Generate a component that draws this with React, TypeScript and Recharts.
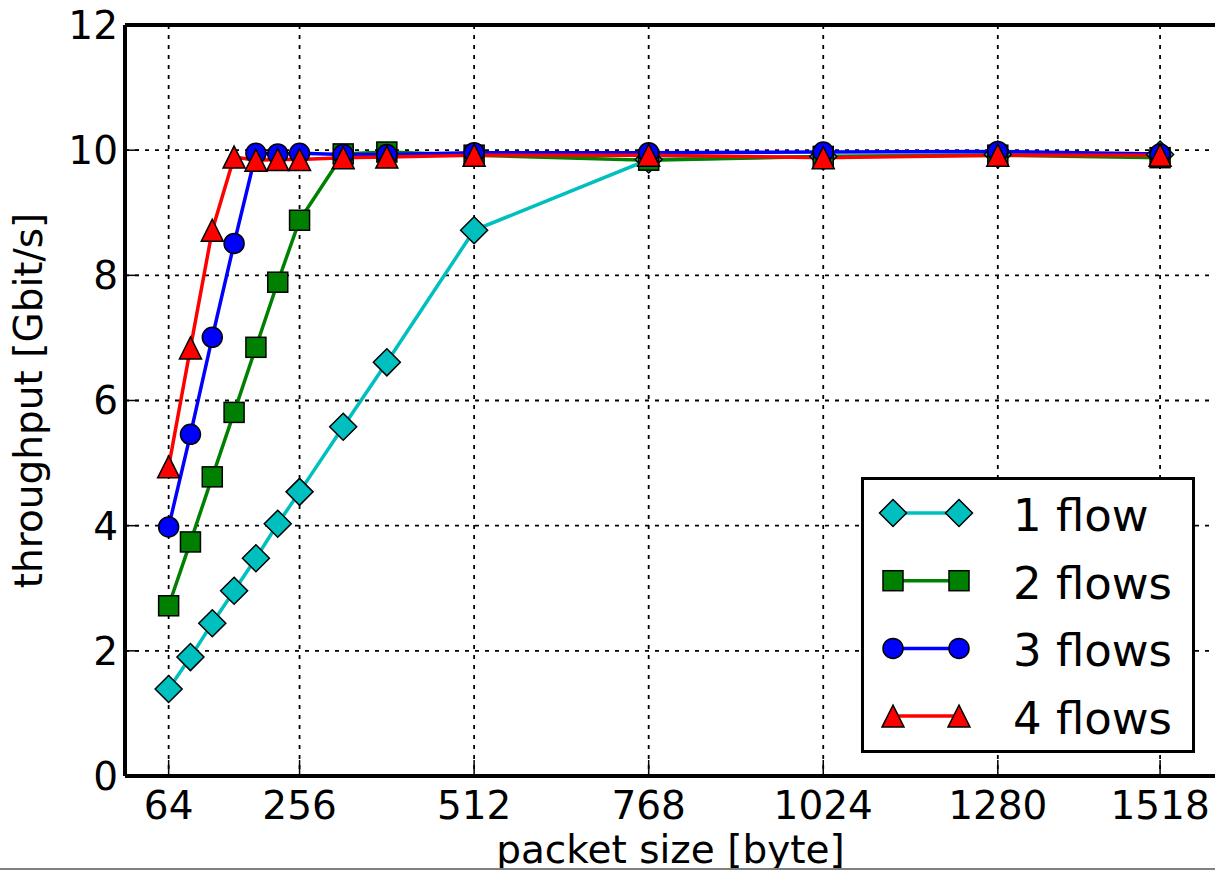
import React from "react";
import {
  LineChart,
  Line,
  XAxis,
  YAxis,
  CartesianGrid,
  Legend,
  ReferenceLine,
} from "recharts";

// packet sizes in bytes and throughput in Gbit/s
const packetSizes = [64, 96, 128, 160, 192, 224, 256, 320, 384, 512, 768, 1024, 1280, 1518];
const flow1 = [1.39, 1.9, 2.44, 2.96, 3.48, 4.03, 4.54, 5.58, 6.61, 8.72, 9.85, 9.9, 9.93, 9.93];
const flow2 = [2.72, 3.74, 4.78, 5.81, 6.85, 7.89, 8.88, 9.94, 9.97, 9.92, 9.84, 9.9, 9.92, 9.88];
const flow3 = [3.98, 5.46, 7.01, 8.51, 9.95, 9.94, 9.95, 9.93, 9.93, 9.96, 9.96, 9.97, 9.98, 9.94];
const flow4 = [4.94, 6.84, 8.72, 9.89, 9.84, 9.85, 9.85, 9.88, 9.89, 9.92, 9.92, 9.88, 9.92, 9.92];

const xTicks = [64, 256, 512, 768, 1024, 1280, 1518];
const yTicks = [0, 2, 4, 6, 8, 10, 12];

const data = packetSizes.map((size, i) => ({
  size,
  flow1: flow1[i],
  flow2: flow2[i],
  flow3: flow3[i],
  flow4: flow4[i],
}));

type Shape = "diamond" | "square" | "circle" | "triangle";

const SERIES: { key: string; name: string; color: string; shape: Shape }[] = [
  { key: "flow1", name: "1 flow", color: "#00bfbf", shape: "diamond" },
  { key: "flow2", name: "2 flows", color: "#008000", shape: "square" },
  { key: "flow3", name: "3 flows", color: "#0000ff", shape: "circle" },
  { key: "flow4", name: "4 flows", color: "#ff0000", shape: "triangle" },
];

const FONT = "'DejaVu Sans', sans-serif";

function Marker({ shape, cx, cy, fill }: { shape: Shape; cx?: number; cy?: number; fill: string }) {
  if (cx == null || cy == null) return null;
  const common = { fill, stroke: "#000", strokeWidth: 1.5 };
  switch (shape) {
    case "diamond": {
      const r = 13.5;
      return <polygon points={`${cx},${cy - r} ${cx + r},${cy} ${cx},${cy + r} ${cx - r},${cy}`} {...common} />;
    }
    case "square":
      return <rect x={cx - 10} y={cy - 10} width={20} height={20} {...common} />;
    case "circle":
      return <circle cx={cx} cy={cy} r={10} {...common} />;
    default: {
      const h = 11;
      return <polygon points={`${cx},${cy - h} ${cx + h},${cy + h} ${cx - h},${cy + h}`} {...common} />;
    }
  }
}

const renderLegend = (props: any) => {
  const items = props.payload ?? [];
  return (
    <svg width={334} height={276} style={{ display: "block" }}>
      <rect x={1.5} y={1.5} width={331} height={273} fill="#fff" stroke="#000" strokeWidth={3} />
      {items.map((item: any, i: number) => {
        const s = SERIES.find((se) => se.key === item.dataKey) ?? SERIES[i];
        const cy = 36 + i * 67.7;
        return (
          <g key={s.key}>
            <line x1={32} x2={98} y1={cy} y2={cy} stroke={s.color} strokeWidth={3.5} />
            <Marker shape={s.shape} cx={32} cy={cy} fill={s.color} />
            <Marker shape={s.shape} cx={98} cy={cy} fill={s.color} />
            <text x={152} y={cy + 18} fontSize={45} fontFamily={FONT} fill="#000">
              {item.value}
            </text>
          </g>
        );
      })}
    </svg>
  );
};

export default function App() {
  return (
    <div
      style={{
        position: "fixed",
        top: 0,
        left: 0,
        width: 1215,
        height: 871,
        overflow: "hidden",
        background: "#fff",
        fontFamily: FONT,
      }}
    >
      <LineChart
        width={1240}
        height={871}
        data={data}
        margin={{ top: 25, right: 24, bottom: 0, left: 0 }}
      >
        <CartesianGrid stroke="#000" strokeDasharray="4 6" strokeWidth={1.8} />
        <XAxis
          dataKey="size"
          type="number"
          domain={[0, 1600]}
          ticks={xTicks}
          interval={0}
          height={95}
          tickSize={-16}
          tickMargin={31}
          tick={{ fontSize: 39, fill: "#000", fontFamily: FONT }}
          tickLine={{ stroke: "#000", strokeWidth: 1.5 }}
          axisLine={{ stroke: "#000", strokeWidth: 4 }}
          label={{
            value: "packet size [byte]",
            position: "insideBottom",
            offset: 8,
            fontSize: 39,
            fill: "#000",
            fontFamily: FONT,
          }}
        />
        <YAxis
          type="number"
          domain={[0, 12]}
          ticks={yTicks}
          interval={0}
          width={125}
          tickSize={-14}
          tickMargin={21}
          tick={{ fontSize: 39, fill: "#000", fontFamily: FONT }}
          tickLine={{ stroke: "#000", strokeWidth: 1.5 }}
          axisLine={{ stroke: "#000", strokeWidth: 4 }}
          label={{
            value: "throughput [Gbit/s]",
            angle: -90,
            position: "insideLeft",
            offset: 28,
            fontSize: 39,
            fill: "#000",
            fontFamily: FONT,
            style: { textAnchor: "middle" },
          }}
        />
        <ReferenceLine y={12} stroke="#000" strokeWidth={4} ifOverflow="visible" />
        {SERIES.map((s) => (
          <Line
            key={s.key}
            type="linear"
            dataKey={s.key}
            name={s.name}
            stroke={s.color}
            strokeWidth={3.5}
            isAnimationActive={false}
            activeDot={false}
            dot={(p: any) => (
              <Marker key={`${s.key}-${p.index}`} shape={s.shape} cx={p.cx} cy={p.cy} fill={s.color} />
            )}
          />
        ))}
        <Legend
          layout="vertical"
          align="center"
          verticalAlign="middle"
          content={renderLegend}
          wrapperStyle={{ left: 861, top: 477, width: 334, height: 276 }}
        />
      </LineChart>
      <div
        style={{
          position: "absolute",
          left: 0,
          top: 868,
          width: 1215,
          height: 3,
          background: "#fff",
          borderTop: "2px solid #808080",
          boxSizing: "border-box",
        }}
      />
    </div>
  );
}
